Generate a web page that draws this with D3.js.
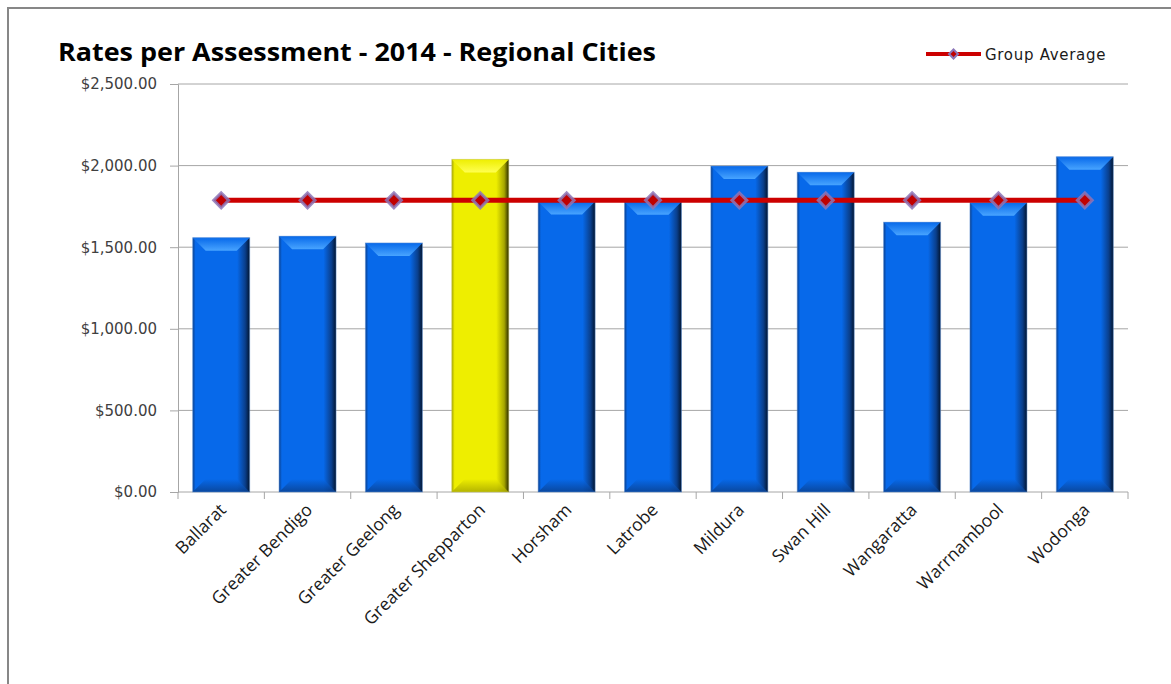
<!DOCTYPE html>
<html>
<head>
<meta charset="utf-8">
<script src="https://cdn.jsdelivr.net/npm/d3@7"></script>
<style>
  body { margin: 0; background: #fff; }
  svg { display: block; }
</style>
</head>
<body>
<div id="chart"></div>
<script>
// chart data
const cities = ["Ballarat", "Greater Bendigo", "Greater Geelong", "Greater Shepparton", "Horsham",
  "Latrobe", "Mildura", "Swan Hill", "Wangaratta", "Warrnambool", "Wodonga"];
const rates = [1558, 1567, 1526, 2038, 1780, 1778, 1997, 1959, 1653, 1773, 2054];
const groupAverage = [1787, 1787, 1787, 1787, 1787, 1787, 1787, 1787, 1787, 1787, 1787];
const highlight = "Greater Shepparton";
const yTicks = [0, 500, 1000, 1500, 2000, 2500];

let width = 1171, height = 684;
let margin = { top: 84, right: 43, bottom: 192, left: 178 };
let innerW = width - margin.left - margin.right;
let innerH = height - margin.top - margin.bottom;

let svg = d3.select("#chart").append("svg")
  .attr("width", width)
  .attr("height", height);

// outer frame of the chart
svg.append("rect")
  .attr("x", 8).attr("y", 8)
  .attr("width", 1200).attr("height", 700)
  .attr("fill", "none")
  .attr("stroke", "#878787")
  .attr("stroke-width", 2);

///////////////////////////// gradients /////////////////////////////
let defs = svg.append("defs");

function barGradients(id, light, mid, dark, side) {
  let g = defs.append("linearGradient").attr("id", id + "_body")
    .attr("x1", 0).attr("x2", 1).attr("y1", 0).attr("y2", 0);
  g.append("stop").attr("offset", "0%").attr("stop-color", dark);
  g.append("stop").attr("offset", "5%").attr("stop-color", mid);
  g.append("stop").attr("offset", "78%").attr("stop-color", mid);
  g.append("stop").attr("offset", "92%").attr("stop-color", dark);
  g.append("stop").attr("offset", "100%").attr("stop-color", side);

  let t = defs.append("linearGradient").attr("id", id + "_top")
    .attr("x1", 0).attr("x2", 0).attr("y1", 0).attr("y2", 1);
  t.append("stop").attr("offset", "0%").attr("stop-color", mid);
  t.append("stop").attr("offset", "100%").attr("stop-color", light);

  let b = defs.append("linearGradient").attr("id", id + "_bot")
    .attr("x1", 0).attr("x2", 0).attr("y1", 0).attr("y2", 1);
  b.append("stop").attr("offset", "0%").attr("stop-color", mid);
  b.append("stop").attr("offset", "100%").attr("stop-color", dark);
}
barGradients("blue", "#48a4ff", "#0769ea", "#0a3f8c", "#021530");
barGradients("yellow", "#ffff50", "#eeee00", "#a6a600", "#2c2c00");

//////////////////////////// scales /////////////////////////////////
let x = d3.scaleBand()
  .domain(cities)
  .range([0, innerW])
  .paddingInner(0.34)
  .paddingOuter(0.17);

let y = d3.scaleLinear()
  .domain([0, 2500])
  .range([innerH, 0]);

let g = svg.append("g")
  .attr("transform", "translate(" + margin.left + "," + margin.top + ")");

// gridlines
g.append("g").selectAll("line")
  .data(yTicks.slice(1))
  .enter().append("line")
  .attr("x1", 0).attr("x2", innerW)
  .attr("y1", d => y(d)).attr("y2", d => y(d))
  .attr("stroke", "#a6a6a6")
  .attr("stroke-width", 1);

// y axis
let yAxis = g.append("g")
  .call(d3.axisLeft(y).tickValues(yTicks).tickSize(8).tickPadding(13)
    .tickFormat(d => "$" + d3.format(",.2f")(d)));
yAxis.selectAll("path, line").attr("stroke", "#a6a6a6");
yAxis.selectAll("text")
  .attr("font-family", "Verdana, 'DejaVu Sans', sans-serif")
  .attr("font-size", "15px")
  .attr("fill", "#404040");

// x axis with ticks at category boundaries
let bounds = d3.range(cities.length + 1).map(i => i * innerW / cities.length);
let xAxis = g.append("g").attr("transform", "translate(0," + innerH + ")");
xAxis.append("line")
  .attr("x1", 0).attr("x2", innerW)
  .attr("stroke", "#a6a6a6");
xAxis.selectAll(".tk")
  .data(bounds)
  .enter().append("line")
  .attr("class", "tk")
  .attr("x1", d => d).attr("x2", d => d)
  .attr("y1", 0).attr("y2", 7)
  .attr("stroke", "#a6a6a6");
xAxis.selectAll(".lbl")
  .data(cities)
  .enter().append("text")
  .attr("class", "lbl")
  .attr("transform", d => "translate(" + (x(d) + x.bandwidth() / 2 + 6) + ",19) rotate(-45)")
  .attr("text-anchor", "end")
  .attr("font-family", "'Open Sans', Lato, sans-serif")
  .attr("font-size", "17.5px")
  .attr("fill", "#1a1a1a")
  .text(d => d);

//////////////////////////// bars ///////////////////////////////////
let bev = 13;
let bars = g.append("g").selectAll(".bar")
  .data(cities.map((c, i) => ({ city: c, value: rates[i] })))
  .enter().append("g")
  .attr("class", "bar");

bars.each(function (d) {
  let el = d3.select(this);
  let id = d.city === highlight ? "yellow" : "blue";
  let x0 = x(d.city), w = x.bandwidth();
  let y0 = y(d.value), y1 = y(0);
  el.append("rect")
    .attr("x", x0).attr("y", y0)
    .attr("width", w).attr("height", y1 - y0)
    .attr("fill", "url(#" + id + "_body)");
  // top bevel
  el.append("path")
    .attr("d", "M" + x0 + "," + y0 + "L" + (x0 + w) + "," + y0 +
      "L" + (x0 + w - bev) + "," + (y0 + bev) + "L" + (x0 + bev) + "," + (y0 + bev) + "Z")
    .attr("fill", "url(#" + id + "_top)");
  // bottom bevel
  el.append("path")
    .attr("d", "M" + x0 + "," + y1 + "L" + (x0 + w) + "," + y1 +
      "L" + (x0 + w - bev) + "," + (y1 - bev) + "L" + (x0 + bev) + "," + (y1 - bev) + "Z")
    .attr("fill", "url(#" + id + "_bot)")
    .attr("opacity", 0.8);
  el.append("rect")
    .attr("x", x0).attr("y", y0)
    .attr("width", w).attr("height", y1 - y0)
    .attr("fill", "none")
    .attr("stroke", id === "blue" ? "#5b8fd6" : "#c8c860")
    .attr("stroke-opacity", 0.5)
    .attr("stroke-width", 1);
});

//////////////////////////// average line ///////////////////////////
let cx = d => x(d) + x.bandwidth() / 2;
let line = d3.line()
  .x((d, i) => cx(cities[i]))
  .y(d => y(d));

g.append("path")
  .datum(groupAverage)
  .attr("d", line)
  .attr("fill", "none")
  .attr("stroke", "#cc0000")
  .attr("stroke-width", 5);

g.append("g").selectAll("path")
  .data(groupAverage)
  .enter().append("path")
  .attr("transform", (d, i) => "translate(" + cx(cities[i]) + "," + y(d) + ") rotate(45)")
  .attr("d", d3.symbol().type(d3.symbolSquare).size(110))
  .attr("fill", "#c00000")
  .attr("stroke", "#8c76b8")
  .attr("stroke-width", 3)
  .attr("stroke-opacity", 0.85);

//////////////////////////// title & legend //////////////////////////
svg.append("text")
  .attr("x", 58).attr("y", 61)
  .attr("font-family", "'Open Sans', Lato, sans-serif")
  .attr("font-weight", "bold")
  .attr("font-size", "25px")
  .attr("textLength", 598)
  .attr("lengthAdjust", "spacingAndGlyphs")
  .attr("fill", "#000")
  .text("Rates per Assessment - 2014 - Regional Cities");

let leg = svg.append("g").attr("transform", "translate(926,54)");
leg.append("line")
  .attr("x1", 0).attr("x2", 55)
  .attr("stroke", "#cc0000").attr("stroke-width", 4);
leg.append("path")
  .attr("transform", "translate(27.5,0) rotate(45)")
  .attr("d", d3.symbol().type(d3.symbolSquare).size(40))
  .attr("fill", "#c00000")
  .attr("stroke", "#8c76b8")
  .attr("stroke-width", 2);
leg.append("text")
  .attr("x", 59).attr("y", 5.5)
  .attr("font-family", "Verdana, 'DejaVu Sans', sans-serif")
  .attr("font-size", "15px")
  .attr("letter-spacing", "0.7px")
  .attr("fill", "#1a1a1a")
  .text("Group Average");
</script>
</body>
</html>
